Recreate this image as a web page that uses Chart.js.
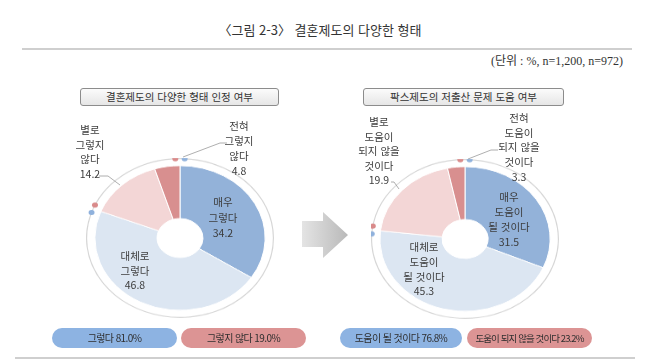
<!DOCTYPE html>
<html lang="ko">
<head>
<meta charset="utf-8">
<script src="https://cdn.jsdelivr.net/npm/chart.js@4/dist/chart.umd.min.js"></script>
<style>
  html, body { margin: 0; padding: 0; background: #fff; }
  body { width: 647px; height: 364px; position: relative; overflow: hidden;
         font-family: "Noto Sans CJK KR", "Noto Sans", sans-serif; color: #3a3a3a; }
  .abs { position: absolute; }
  #title { left: 0; width: 640px; top: 20px; text-align: center; font-size: 13px; color: #333; }
  .rule { height: 2px; background: #cfcfcf; }
  #unit { right: 24px; top: 51px; font-size: 12px; font-family: "Liberation Serif", "DejaVu Serif", "Noto Sans CJK KR", serif; color: #333; }
  .box { height: 16px; line-height: 16px; text-align: center; font-size: 10.5px; color: #333;
         border: 1px solid #8c8c8c; border-radius: 3px;
         background: linear-gradient(#fbfbfb, #e6e6e6); }
  .pie { width: 188px; height: 188px; transform: scaleY(0.85); transform-origin: 50% 50%; }
  .lbl { text-align: center; font-size: 10.5px; color: #3c3c3c; white-space: nowrap; transform: translateX(-50%); }
  .pill { height: 20px; line-height: 20px; border-radius: 10px; text-align: center; font-size: 10px;
          letter-spacing: -0.6px; color: #2e2e2e; white-space: nowrap; overflow: hidden; }
  #pill3 { font-size: 9.5px; letter-spacing: -0.9px; }
</style>
</head>
<body>
<div id="title" class="abs">〈그림 2-3〉 결혼제도의 다양한 형태</div>
<div class="abs rule" style="left:22px; width:610px; top:48px;"></div>
<div id="unit" class="abs">(단위 : %, n=1,200, n=972)</div>

<div class="abs box" style="left:80px; width:197px; top:88px;">결혼제도의 다양한 형태 인정 여부</div>
<div class="abs box" style="left:363px; width:199px; top:88px;">팍스제도의 저출산 문제 도움 여부</div>

<div class="abs pie" style="left:86px; top:144px;"><canvas id="leftChart"></canvas></div>
<div class="abs pie" style="left:371px; top:145px;"><canvas id="rightChart"></canvas></div>

<svg class="abs" style="left:0; top:0;" width="647" height="364">
  <defs>
    <linearGradient id="arrowGrad" x1="0" x2="1" y1="0" y2="0">
      <stop offset="0" stop-color="#e4e4e4"/>
      <stop offset="1" stop-color="#b9b9b9"/>
    </linearGradient>
  </defs>
  <polygon points="302,221 323,221 323,212 348,235 323,258 323,247 302,247" fill="url(#arrowGrad)"/>
  <g fill="none" stroke="#9a9a9a" stroke-width="0.8">
    <polyline points="99,176 108,176 120,185"/>
    <polyline points="227,143 220,143 183,157"/>
    <polyline points="498,150 491,150 468,159"/>
    <polyline points="391,182 394,182 399,189"/>
  </g>
</svg>

<div id="labels"></div>

<div class="abs pill" id="pill0" style="left:52px; width:125px; top:328px; background:#8db3e2;"></div>
<div class="abs pill" id="pill1" style="left:181px; width:125px; top:328px; background:#dc9494;"></div>
<div class="abs pill" id="pill2" style="left:340px; width:122px; top:328px; background:#8db3e2;"></div>
<div class="abs pill" id="pill3" style="left:467px; width:125px; top:328px; background:#dc9494;"></div>
<div class="abs rule" style="left:15px; width:620px; top:357px;"></div>

<script>
// ---- data ----
const leftCategories = ['매우 그렇다', '대체로 그렇다', '별로 그렇지 않다', '전혀 그렇지 않다'];
const leftValues = [34.2, 46.8, 14.2, 4.8];
const leftGroups = ['그렇다', '그렇지 않다'];
const leftGroupValues = [81.0, 19.0];

const rightCategories = ['매우 도움이 될 것이다', '대체로 도움이 될 것이다', '별로 도움이 되지 않을 것이다', '전혀 도움이 되지 않을 것이다'];
const rightValues = [31.5, 45.3, 19.9, 3.3];
const rightGroups = ['도움이 될 것이다', '도움이 되지 않을 것이다'];
const rightGroupValues = [76.8, 23.2];

// label line breaks
const leftLabelLines = [['매우', '그렇다'], ['대체로', '그렇다'], ['별로', '그렇지', '않다'], ['전혀', '그렇지', '않다']];
const rightLabelLines = [['매우', '도움이', '될 것이다'], ['대체로', '도움이', '될 것이다'],
                         ['별로', '도움이', '되지 않을', '것이다'], ['전혀', '도움이', '되지 않을', '것이다']];

const sliceColors = ['#93b2d9', '#dce6f2', '#f3d6d6', '#d88f8f'];
const groupColors = ['#8fb1dc', '#d98a8a'];

// label positions: [centerX, top, lineHeight]
const leftLabelPos = [[223, 194, 15.5], [135, 249, 14.5], [90, 123, 14.5], [239, 118, 15]];
const rightLabelPos = [[509, 189, 15], [424, 240, 14.8], [379, 115, 14.5], [519, 111, 14.7]];

// ---- labels (html text) ----
const labelsEl = document.getElementById('labels');
function addLabels(lines, values, pos) {
  lines.forEach((ls, i) => {
    const d = document.createElement('div');
    d.className = 'abs lbl';
    d.style.left = pos[i][0] + 'px';
    d.style.top = pos[i][1] + 'px';
    d.style.lineHeight = pos[i][2] + 'px';
    d.innerHTML = ls.concat([values[i].toFixed(1)]).join('<br>');
    labelsEl.appendChild(d);
  });
}
addLabels(leftLabelLines, leftValues, leftLabelPos);
addLabels(rightLabelLines, rightValues, rightLabelPos);

document.getElementById('pill0').textContent = `${leftGroups[0]} ${leftGroupValues[0].toFixed(1)}%`;
document.getElementById('pill1').textContent = `${leftGroups[1]} ${leftGroupValues[1].toFixed(1)}%`;
document.getElementById('pill2').textContent = `${rightGroups[0]} ${rightGroupValues[0].toFixed(1)}%`;
document.getElementById('pill3').textContent = `${rightGroups[1]} ${rightGroupValues[1].toFixed(1)}%`;

// ---- dots on the outer ring at group boundaries ----
const groupDots = {
  id: 'groupDots',
  afterDatasetsDraw(chart) {
    const ctx = chart.ctx;
    const meta = chart.getDatasetMeta(0);
    const d = 0.05;
    meta.data.forEach((arc, i) => {
      const r = (arc.outerRadius + arc.innerRadius) / 2;
      [arc.startAngle + d, arc.endAngle - d].forEach(a => {
        ctx.beginPath();
        ctx.arc(arc.x + r * Math.cos(a), arc.y + r * Math.sin(a), 3, 0, Math.PI * 2);
        ctx.fillStyle = groupColors[i];
        ctx.fill();
      });
    });
  }
};

function makePie(id, categories, values, groupValues) {
  return new Chart(document.getElementById(id).getContext('2d'), {
    type: 'doughnut',
    data: {
      labels: categories,
      datasets: [
        { data: groupValues, backgroundColor: '#d6d6d6', borderWidth: 0, weight: 1.2 },
        { data: groupValues, backgroundColor: 'rgba(0,0,0,0)', borderWidth: 0, weight: 7.8 },
        { data: values, backgroundColor: sliceColors, borderColor: '#ffffff', borderWidth: 1, weight: 63 }
      ]
    },
    options: {
      responsive: true,
      maintainAspectRatio: false,
      animation: false,
      events: [],
      cutout: 23,
      layout: { padding: 0 },
      plugins: { legend: { display: false }, tooltip: { enabled: false } }
    },
    plugins: [groupDots]
  });
}

const leftChart = makePie('leftChart', leftCategories, leftValues, leftGroupValues);
const rightChart = makePie('rightChart', rightCategories, rightValues, rightGroupValues);
</script>
</body>
</html>
